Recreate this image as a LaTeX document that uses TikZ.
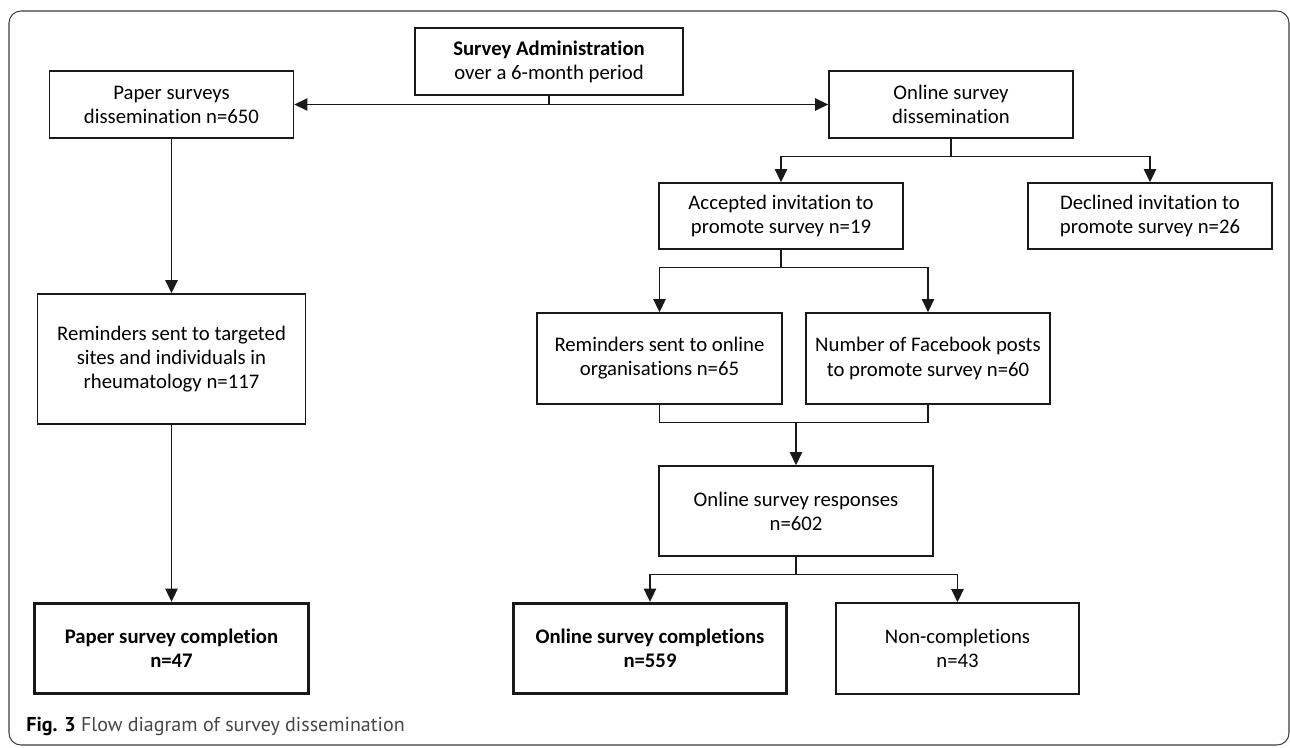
\documentclass[tikz,border=0pt]{standalone}
\usepackage{fontspec}
\setmainfont[Ligatures=NoCommon]{Carlito}
\newfontfamily\figcapfont{PT Sans}
\usepackage{tikz}
\usetikzlibrary{arrows.meta}
\definecolor{boxline}{RGB}{25,25,25}
\definecolor{frameline}{RGB}{60,60,60}
\definecolor{captext}{RGB}{70,70,70}
\tikzset{
    box/.style={rectangle, draw=boxline, line width=0.85pt, text centered, align=center, inner sep=2pt, font=\fontsize{11.8}{13.7}\selectfont},
    endbox/.style={box, line width=1.9pt, font=\fontsize{11.8}{13.7}\selectfont\bfseries},
    flow/.style={->, line width=0.85pt, draw=boxline, >={Triangle[length=7.5pt, width=7pt]}},
    link/.style={line width=0.85pt, draw=boxline}
}

\begin{document}
\begin{tikzpicture}
    \useasboundingbox (0,0) rectangle (25.8,14.94);
    % Figure frame
    \draw[frameline, line width=0.6pt, rounded corners=0.24cm] (0.18,0.04) rectangle (25.78,14.72);

    % Administration
    \node[box, minimum width=5.36cm, minimum height=1.34cm] (admin) at (10.98,13.71) {\textbf{Survey Administration}\\ over a 6-month period};

    % Dissemination
    \node[box, minimum width=4.88cm, minimum height=1.34cm] (paper) at (3.43,12.85) {Paper surveys\\ dissemination n=650};
    \node[box, minimum width=4.88cm, minimum height=1.34cm] (online) at (19.02,12.85) {Online survey\\ dissemination};

    % Invitations
    \node[box, minimum width=4.88cm, minimum height=1.32cm] (accepted) at (15.62,10.62) {Accepted invitation to\\ promote survey n=19};
    \node[box, minimum width=4.88cm, minimum height=1.32cm] (declined) at (23.0,10.62) {Declined invitation to\\ promote survey n=26};

    % Reminders and posts
    \node[box, minimum width=5.36cm, minimum height=2.6cm] (remind_paper) at (3.43,7.76) {Reminders sent to targeted\\ sites and individuals in\\ rheumatology n=117};
    \node[box, minimum width=4.9cm, minimum height=1.82cm] (remind_online) at (13.19,7.77) {Reminders sent to online\\ organisations n=65};
    \node[box, minimum width=4.88cm, minimum height=1.82cm] (facebook) at (18.56,7.77) {Number of Facebook posts\\ to promote survey n=60};

    % Responses
    \node[box, minimum width=5.48cm, minimum height=1.8cm] (responses) at (15.92,4.72) {Online survey responses\\ n=602};

    % Completions
    \node[endbox, minimum width=5.48cm, minimum height=1.8cm] (paper_done) at (3.43,1.97) {Paper survey completion\\ n=47};
    \node[endbox, minimum width=5.46cm, minimum height=1.8cm] (online_done) at (13.0,1.97) {Online survey completions\\ n=559};
    \node[box, minimum width=4.86cm, minimum height=1.82cm] (non_done) at (19.15,1.97) {Non-completions\\ n=43};

    % Caption
    \node[anchor=west, inner sep=0pt, font=\figcapfont\fontsize{11.4}{13.7}\selectfont, text=captext] (caption) at (0.52,0.42) {{\color{black}\textbf{Fig. 3}} Flow diagram of survey dissemination};

    % Flows
    \draw[flow] (admin.south) |- (paper);
    \draw[flow] (admin.south) |- (online);
    \draw[flow] (paper) -- (remind_paper);
    \draw[flow] (remind_paper) -- (paper_done);
    \draw[flow] (online.south) -- ++(0,-0.36) -| (accepted);
    \draw[flow] (online.south) -- ++(0,-0.36) -| (declined);
    \draw[flow] (accepted.south) -- ++(0,-0.36) -| (remind_online);
    \draw[flow] (accepted.south) -- ++(0,-0.36) -| (facebook);
    \draw[link] (remind_online.south) -- ++(0,-0.36) coordinate (merge) -| (facebook.south);
    \draw[flow] (merge -| responses.north) -- (responses);
    \draw[flow] (responses.south) -- ++(0,-0.36) -| (online_done);
    \draw[flow] (responses.south) -- ++(0,-0.36) -| (non_done);
\end{tikzpicture}
\end{document}
